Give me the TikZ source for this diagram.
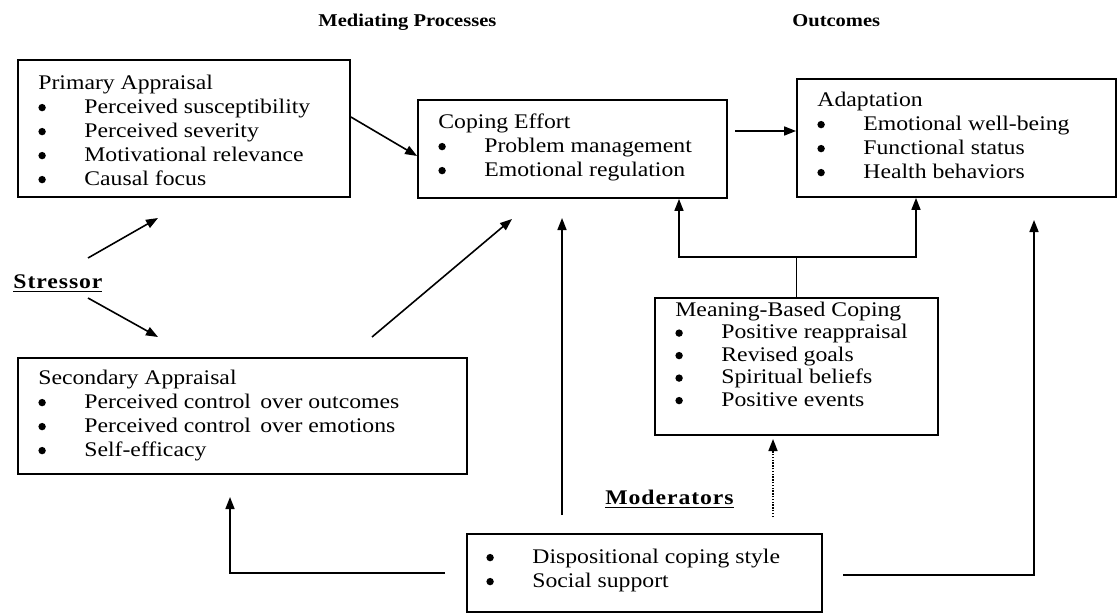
\documentclass[tikz,border=0pt]{standalone}
\usepackage{fontspec}
\setmainfont{Liberation Serif}[FakeStretch=1.14]
\usetikzlibrary{fit,arrows.meta}
\newcommand\bulsym{\tikz[baseline=0pt]{\fill (2.2pt,2.9pt) circle[radius=1.85pt];}}
\newcommand\bl[1]{\\\makebox[23pt][l]{\bulsym}#1}
\begin{document}
\begin{tikzpicture}[x=0.5pt,y=-0.5pt,
  box/.style={draw, line width=0.9pt, inner sep=0pt},
  txt/.style={anchor=north west, inner sep=0pt, align=left, font=\fontsize{10.4}{12}\selectfont},
  arr/.style={line width=0.8pt, -{Triangle[length=6pt,width=4.5pt]}},
  ttl/.style={anchor=base west, inner sep=0pt, font=\fontsize{9}{11}\selectfont\bfseries},
  lbl/.style={anchor=base west, inner sep=0pt, font=\fontsize{10.4}{12}\selectfont\bfseries\addfontfeature{LetterSpace=4.5}}]
\useasboundingbox (0,0) rectangle (1118,615);

% titles
\node[ttl] (tmed) at (318,27) {Mediating Processes};
\node[ttl] (tout) at (792,27) {Outcomes};

% boxes
\node[box, fit={(18,60) (350,197)}] (pa) {};
\node[box, fit={(418,100) (727,198)}] (ce) {};
\node[box, fit={(797,79) (1116,197)}] (ad) {};
\node[box, fit={(18,358) (467,474)}] (sa) {};
\node[box, fit={(655,298) (938,435)}] (mb) {};
\node[box, fit={(467,534) (822,612)}] (mo) {};

% box texts
\node[txt] (pat) at (38,72.2) {\strut Primary Appraisal\bl{Perceived susceptibility}\bl{Perceived severity}\bl{Motivational relevance}\bl{Causal focus}};
\node[txt] (cet) at (438,111.2) {\strut Coping Effort\bl{Problem management}\bl{Emotional regulation}};
\node[txt] (adt) at (817,89.2) {\strut Adaptation\bl{Emotional well-being}\bl{Functional status}\bl{Health behaviors}};
\node[txt] (sat) at (38,367.2) {\strut Secondary Appraisal\bl{Perceived control\, over outcomes}\bl{Perceived control\, over emotions}\bl{Self-efficacy}};
\node[txt, font=\fontsize{10.4}{11.25}\selectfont] (mbt) at (675,300.25) {\strut Meaning-Based Coping\bl{Positive reappraisal}\bl{Revised goals}\bl{Spiritual beliefs}\bl{Positive events}};
\node[txt] (mot) at (486,546.2) {\strut\makebox[23pt][l]{\bulsym}Dispositional coping style\bl{Social support}};

% labels
\node[lbl] (st) at (13,288) {\underline{Stressor}};
\node[lbl] (md) at (605,504) {\underline{Moderators}};

% connector end points
\coordinate (s1) at (88,258);   \coordinate (s1e) at (158,218);
\coordinate (s2) at (88,298);   \coordinate (s2e) at (158,337);
\coordinate (sa1) at (372,337); \coordinate (sa1e) at (512,219);
\coordinate (m1) at (562,515);  \coordinate (m1e) at (562,218);
\coordinate (m2) at (773,517);  \coordinate (m2e) at (773,439);
\coordinate (m3) at (445,573);  \coordinate (m3e) at (230,497);
\coordinate (m4) at (843,575);  \coordinate (m4e) at (1034,220);
\coordinate (c1) at (735,131);

% connectors
\draw[arr] ([yshift=5.75pt]pa.east) -- ([yshift=-3.5pt]ce.west);
\draw[arr] (c1) -- (ad.west |- c1);
\draw[arr] (s1) -- (s1e);
\draw[arr] (s2) -- (s2e);
\draw[arr] (sa1) -- (sa1e);
\draw[line width=0.8pt] (mb.north) -- ++(0,-40) coordinate (j);
\draw[arr] (j) -| (ce.south -| 679,0);
\draw[arr] (j) -| (ad.south -| 916,0);
\draw[arr] (m1) -- (m1e);
\draw[arr, dash pattern=on 0.7pt off 0.7pt] (m2) -- (m2e);
\draw[arr] (m3) -| (m3e);
\draw[arr] (m4) -| (m4e);
\end{tikzpicture}
\end{document}
